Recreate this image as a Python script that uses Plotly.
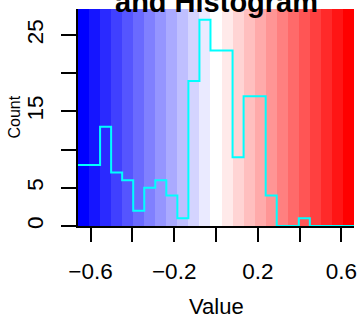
import plotly.graph_objects as go

# ---- data ----
key_min = -0.66
key_max = 0.66
n_colors = 25
counts = [8, 8, 13, 7, 6, 2, 5, 6, 4, 1, 19, 27, 23, 23, 9, 17, 17, 4, 0, 0, 1, 0, 0, 0, 0]
x_tickvals = [-0.6, -0.4, -0.2, 0.0, 0.2, 0.4, 0.6]
x_ticktext = ["\u22120.6", "", "\u22120.2", "", "0.2", "", "0.6"]
y_tickvals = [0, 5, 10, 15, 20, 25]
y_ticktext = ["0", "5", "", "15", "", "25"]

step = (key_max - key_min) / n_colors
breaks = [key_min + i * step for i in range(n_colors + 1)]
half = n_colors // 2
colors = []
for i in range(n_colors):
    if i <= half:
        v = round(255 * i / half)
        colors.append(f"rgb({v},{v},255)")
    else:
        v = round(255 * (n_colors - 1 - i) / half)
        colors.append(f"rgb(255,{v},{v})")
colorscale = [[i / (n_colors - 1), c] for i, c in enumerate(colors)]
ymax = max(counts) / 0.95

fig = go.Figure()
fig.add_trace(go.Heatmap(
    z=[list(range(n_colors))], x=breaks, y=[0, ymax],
    colorscale=colorscale, zmin=0, zmax=n_colors - 1,
    showscale=False, hoverinfo="skip"))
fig.add_trace(go.Scatter(
    x=breaks, y=counts + [counts[-1]], mode="lines",
    line=dict(color="#00FFFF", width=2, shape="hv"), hoverinfo="skip", cliponaxis=False))

font = "Liberation Sans, Arial, Helvetica, sans-serif"
fig.update_layout(
    width=362, height=321, showlegend=False,
    margin=dict(l=78, r=8, t=9, b=95, pad=0, autoexpand=False),
    paper_bgcolor="white", plot_bgcolor="white",
    font=dict(family=font, color="black", size=22.5),
    xaxis=dict(range=[key_min, key_max], tickvals=x_tickvals, ticktext=x_ticktext,
               ticks="outside", ticklen=14, tickwidth=2, tickcolor="black",
               showline=True, linecolor="black", linewidth=2, automargin=False,
               showgrid=False, zeroline=False, ticklabelstandoff=10,
               tickfont=dict(size=22.5)),
    yaxis=dict(range=[0, ymax], tickvals=y_tickvals, ticktext=y_ticktext,
               ticks="outside", ticklen=15, tickwidth=2, tickcolor="black",
               showline=True, linecolor="black", linewidth=2, automargin=False,
               showgrid=False, zeroline=False, tickangle=-90, ticklabelstandoff=9,
               tickfont=dict(size=22.5)),
    annotations=[
        dict(text="Value", xref="paper", yref="paper", x=0.5, y=0,
             xanchor="center", yanchor="middle", yshift=-80, showarrow=False,
             font=dict(size=22)),
        dict(text="Count", xref="paper", yref="paper", x=0, y=0.5,
             xanchor="center", yanchor="middle", xshift=-64, textangle=-90,
             showarrow=False, font=dict(size=16)),
        dict(text="<b>Color Key</b><br><b>and Histogram</b>", xref="paper", yref="paper",
             x=0.5, y=1, xanchor="center", yanchor="bottom", yshift=-11,
             showarrow=False, font=dict(size=29)),
    ],
)
fig.write_html("out.html", config={"displayModeBar": False},
               post_script="document.body.style.margin='0';")
